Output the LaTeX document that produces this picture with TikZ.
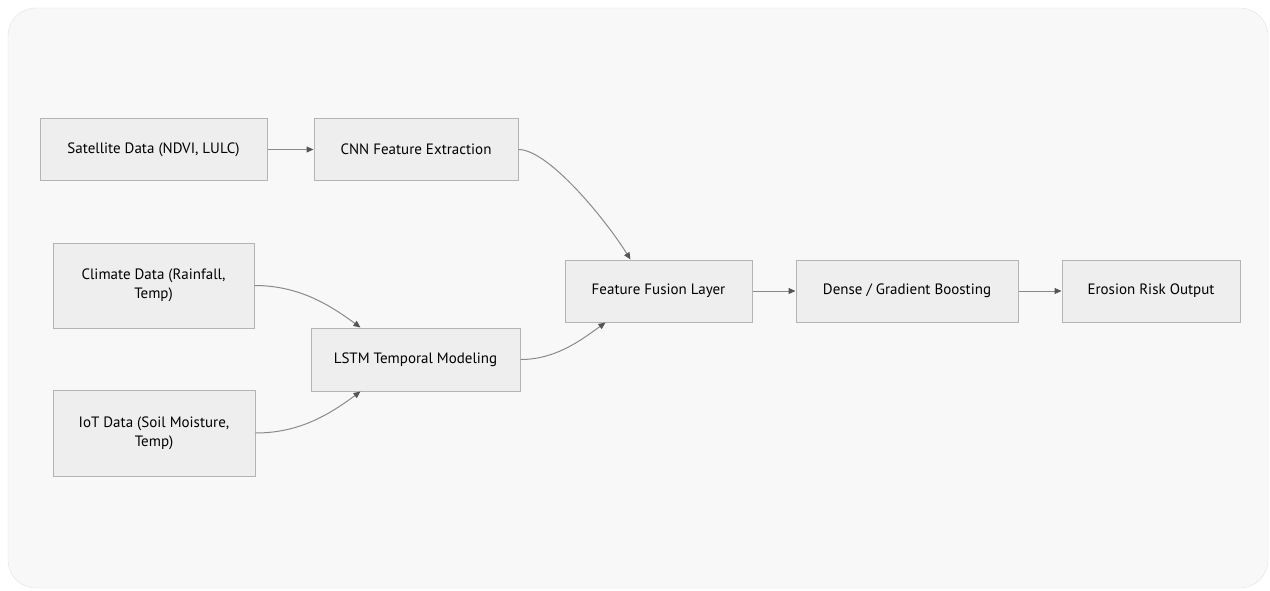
\documentclass[tikz,border=0pt]{standalone}
\usepackage{fontspec}
\setmainfont{PT Sans}
\usetikzlibrary{arrows.meta}
\definecolor{bgfill}{HTML}{F8F8F8}
\definecolor{bgline}{HTML}{E2E2E2}
\definecolor{boxfill}{HTML}{EEEEEE}
\definecolor{boxline}{HTML}{B4B4B4}
\definecolor{edgecol}{HTML}{8A8A8A}
\definecolor{tipcol}{HTML}{555555}
\tikzset{
  box/.style={draw=boxline, fill=boxfill, line width=1pt, minimum height=62pt,
    align=center, font=\fontsize{15}{19}\selectfont, inner sep=0pt, text=black},
  edge/.style={draw=edgecol, line width=1pt, -{Triangle[length=7pt,width=6pt,fill=tipcol,color=tipcol]}}
}
\begin{document}
\begin{tikzpicture}[x=1pt,y=-1pt]
\useasboundingbox (0,0) rectangle (1270,590);
\fill[white] (0,0) rectangle (1270,590);
\draw[bgline, fill=bgfill, rounded corners=28pt] (8,8) rectangle (1268,588);

\node[box, minimum width=227pt] (sat) at (153.5,149.5) {Satellite Data (NDVI, LULC)};
\node[box, minimum width=204pt] (cnn) at (416,149.5) {CNN Feature Extraction};
\node[box, minimum width=201pt, minimum height=85pt] (clim) at (153.5,285.5) {Climate Data (Rainfall,\\Temp)};
\node[box, minimum width=209pt, minimum height=63pt] (lstm) at (415.5,359.5) {LSTM Temporal Modeling};
\node[box, minimum width=202pt, minimum height=86pt] (iot) at (154,433) {IoT Data (Soil Moisture,\\Temp)};
\node[box, minimum width=187pt] (fus) at (658.5,291) {Feature Fusion Layer};
\node[box, minimum width=222pt] (dense) at (907,291) {Dense / Gradient Boosting};
\node[box, minimum width=178pt] (out) at (1151,291) {Erosion Risk Output};

\draw[edge] (sat) -- (cnn);
\draw[edge] (cnn.east) .. controls +(30,0) and +(-25,-40) .. ([xshift=-28pt]fus.north);
\draw[edge] (clim.east) .. controls +(45,0) and +(-30,-22) .. ([xshift=-55pt]lstm.north);
\draw[edge] (iot.east) .. controls +(45,0) and +(-30,22) .. ([xshift=-55pt]lstm.south);
\draw[edge] (lstm.east) .. controls +(35,0) and +(-25,18) .. ([xshift=-53pt]fus.south);
\draw[edge] (fus) -- (dense);
\draw[edge] (dense) -- (out);
\end{tikzpicture}
\end{document}
